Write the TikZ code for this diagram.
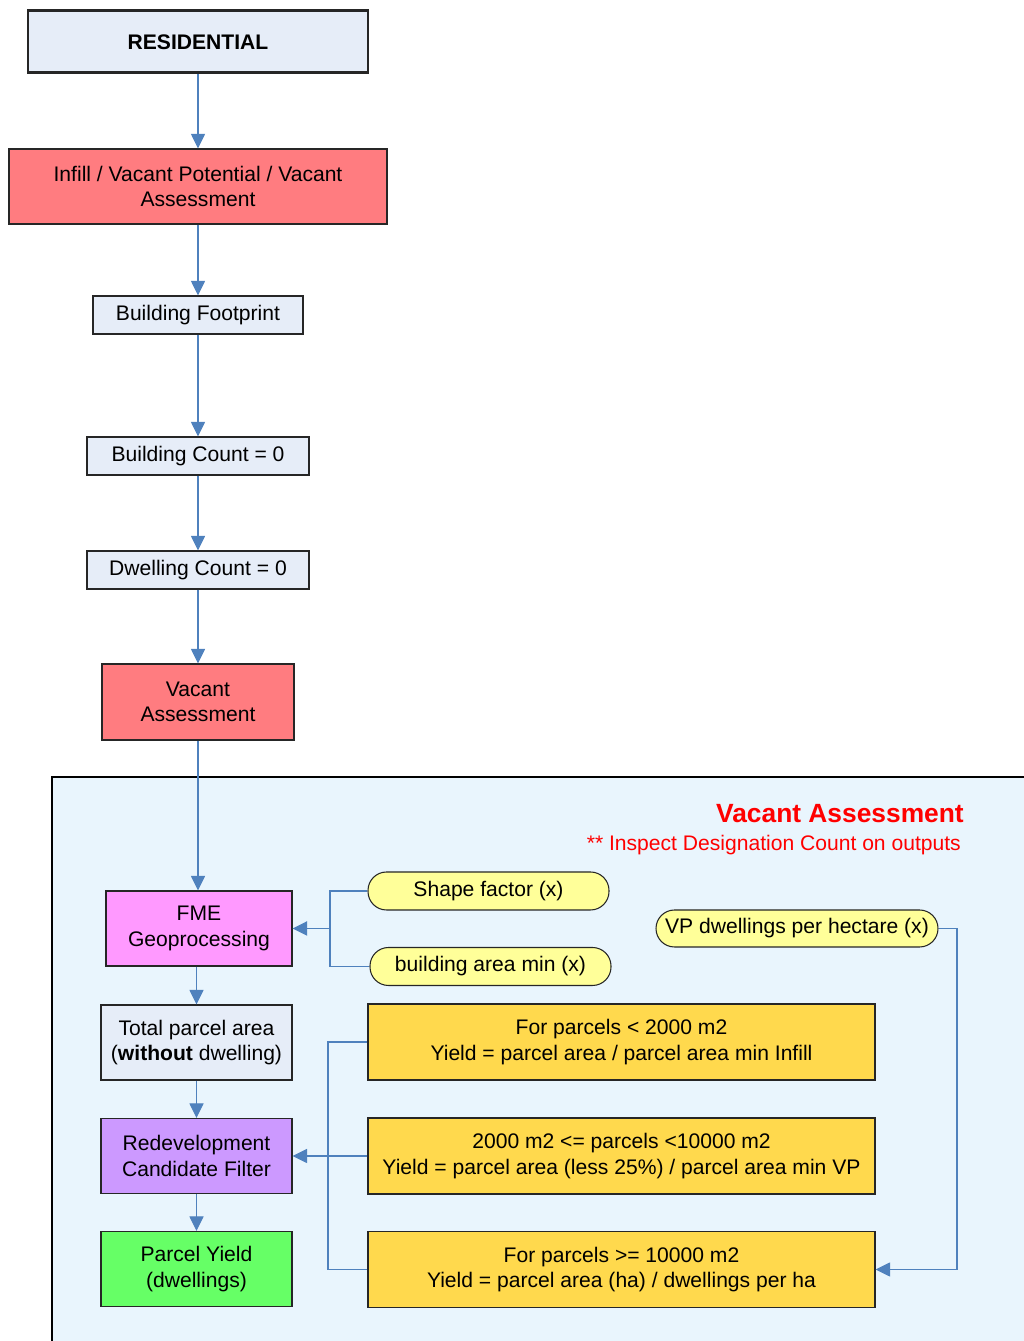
\documentclass[tikz,border=0pt]{standalone}
\usepackage{fontspec}
\setmainfont{Liberation Sans}
\usetikzlibrary{arrows.meta,positioning}
\definecolor{lnblue}{HTML}{4F81BD}
\definecolor{paleblue}{HTML}{E6EDF8}
\definecolor{salmon}{HTML}{FF7C80}
\definecolor{areafill}{HTML}{E9F5FD}
\definecolor{pinkfill}{HTML}{FF99FF}
\definecolor{lilac}{HTML}{CC99FF}
\definecolor{lime}{HTML}{66FF66}
\definecolor{gold}{HTML}{FFD94D}
\definecolor{lemon}{HTML}{FFFF99}

\begin{document}
\begin{tikzpicture}[
  font=\fontsize{12}{14.6}\selectfont,
  >={Triangle[length=2.9mm,width=2.8mm]},
  box/.style={draw=black!85, line width=0.6pt, fill=paleblue, align=center,
              inner sep=2pt},
  redbox/.style={box, fill=salmon},
  rulebox/.style={box, fill=gold, minimum width=10.14cm, minimum height=1.52cm},
  pill/.style={box, fill=lemon, rounded corners=3.7mm, minimum height=0.76cm},
  link/.style={line width=0.6pt, lnblue},
  flow/.style={->, line width=0.6pt, lnblue},
  feed/.style={->, line width=1.1pt, lnblue}]

%% Lienzo fijo de 20.46 x 26.82 cm (1 px de la referencia = 0.2 mm).
\useasboundingbox (0,0) rectangle (20.46,26.82);

%% ---- columna superior ----
\node[box, line width=1.7pt, minimum width=6.8cm, minimum height=1.24cm,
      font=\fontsize{12}{14.6}\selectfont\bfseries]
  (resid) at (3.96,25.98) {RESIDENTIAL};

\node[redbox, minimum width=7.56cm, minimum height=1.5cm]
  (infill) at (3.96,23.09) {Infill / Vacant Potential / Vacant\\ Assessment};

\node[box, minimum width=4.2cm, minimum height=0.76cm]
  (footprint) at (3.96,20.52) {Building Footprint};

\node[box, minimum width=4.44cm, minimum height=0.76cm]
  (bcount) at (3.96,17.70) {Building Count = 0};

\node[box, minimum width=4.44cm, minimum height=0.76cm]
  (dcount) at (3.96,15.42) {Dwelling Count = 0};

\node[redbox, minimum width=3.84cm, minimum height=1.52cm]
  (vacant) at (3.96,12.78) {Vacant\\ Assessment};

\draw[flow] (resid) -- (infill);
\draw[flow] (infill) -- (footprint);
\draw[flow] (footprint) -- (bcount);
\draw[flow] (bcount) -- (dcount);
\draw[flow] (dcount) -- (vacant);

%% ---- recuadro inferior: sale por la derecha y por abajo del lienzo ----
\draw[black, line width=0.8pt, fill=areafill] (1.04,-0.3) rectangle (20.8,11.28);

\node[anchor=east, text=red, font=\fontsize{15}{18}\selectfont\bfseries]
  (title) at (19.40,10.54) {Vacant Assessment};
\node[anchor=east, text=red]
  (note) at (19.34,9.92) {** Inspect Designation Count on outputs};

%% ---- columna izquierda del recuadro ----
\node[box, fill=pinkfill, minimum width=3.72cm, minimum height=1.5cm]
  (fme) at (3.98,8.25) {FME\\ Geoprocessing};

\node[box, minimum width=3.82cm, minimum height=1.5cm]
  (total) at (3.93,5.97) {Total parcel area\\ (\textbf{without} dwelling)};

\node[box, fill=lilac, minimum width=3.82cm, minimum height=1.5cm]
  (redev) at (3.93,3.70) {Redevelopment\\ Candidate Filter};

\node[box, fill=lime, minimum width=3.82cm, minimum height=1.5cm]
  (yield) at (3.93,1.44) {Parcel Yield\\ (dwellings)};

\draw[flow] (vacant.south) -- (vacant.south |- fme.north);
\draw[flow] (fme.south -| total.north) -- (total.north);
\draw[flow] (total) -- (redev);
\draw[flow] (redev) -- (yield);

%% ---- parámetros (píldoras) ----
\node[pill, minimum width=4.82cm] (shape) at (9.77,9.00) {Shape factor (x)};
\node[pill, minimum width=4.82cm] (barea) at (9.81,7.49) {building area min (x)};
\node[pill, minimum width=5.64cm, minimum height=0.74cm]
  (vpha) at (15.94,8.25) {VP dwellings per hectare (x)};

\coordinate (pjoin) at (6.60,8.25);
\draw[link] (shape.west) -| (pjoin);
\draw[link] (barea.west) -| (pjoin);
\draw[feed] (pjoin) -- (fme.east);

%% ---- reglas de rendimiento ----
\node[rulebox] (rule1) at (12.43,5.98)
  {For parcels < 2000 m2\\ Yield = parcel area / parcel area min Infill};
\node[rulebox] (rule2) at (12.43,3.70)
  {2000 m2 <= parcels <10000 m2\\ Yield = parcel area (less 25\%) / parcel area min VP};
\node[rulebox] (rule3) at (12.43,1.43)
  {For parcels >= 10000 m2\\ Yield = parcel area (ha) / dwellings per ha};

\coordinate (rjoin) at (6.56,3.70);
\draw[link] (rule1.west) -| (rjoin);
\draw[link] (rule3.west) -| (rjoin);
\draw[flow] (rule2.west) -- (redev.east);

\coordinate (vpturn) at (19.14,8.25);
\draw[flow] (vpha.east) -- (vpturn) |- (rule3.east);

\end{tikzpicture}
\end{document}
